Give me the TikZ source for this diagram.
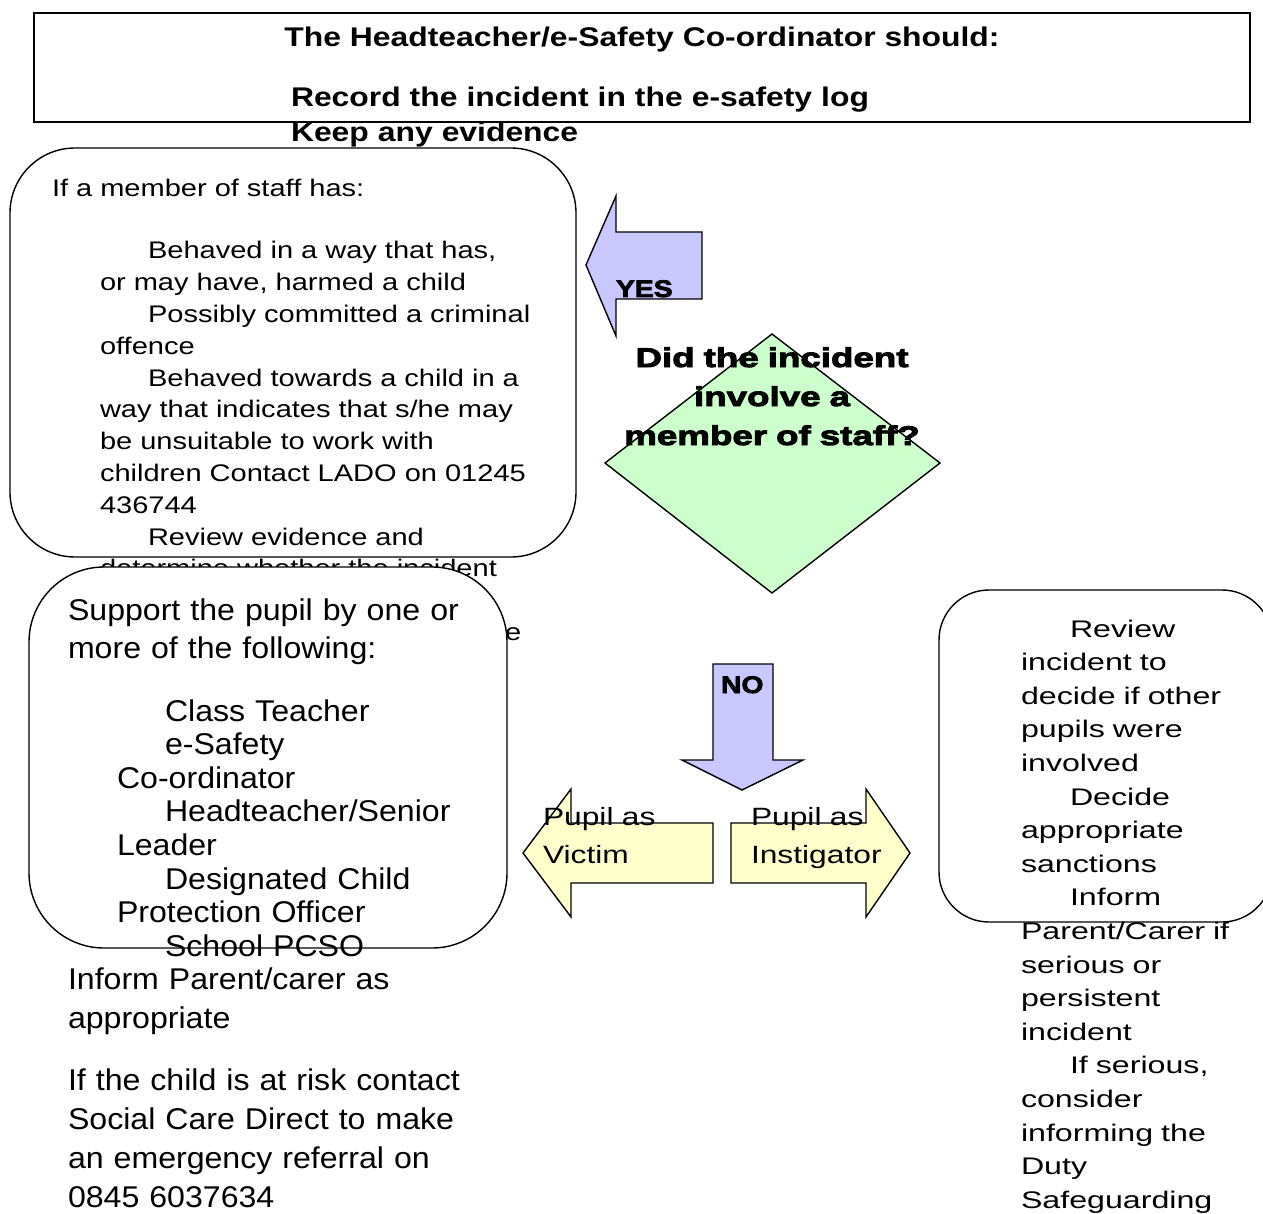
\documentclass[tikz,border=0pt]{standalone}
\usepackage{fontspec}
\setmainfont{Liberation Sans}
\newfontfamily\titlefont[FakeStretch=1.18]{Liberation Sans Bold}
\newfontfamily\askfont[FakeStretch=1.36,FakeBold=3.5]{Liberation Sans Bold}
\newfontfamily\yesnofont[FakeStretch=1.18,FakeBold=3]{Liberation Sans Bold}
\newfontfamily\stafffont[FakeStretch=1.21]{Liberation Sans}
\newfontfamily\supfont[FakeStretch=1.07]{Liberation Sans}
\newfontfamily\reviewfont[FakeStretch=1.34]{Liberation Sans}
\newfontfamily\pupilfont[FakeStretch=1.27]{Liberation Sans}
\definecolor{lilac}{RGB}{200,200,255}
\definecolor{mint}{RGB}{204,255,204}
\definecolor{cream}{RGB}{255,255,204}
\begin{document}
\begin{tikzpicture}[x=1pt, y=-1pt,
    every node/.style={inner sep=0pt, outer sep=0pt},
    frame/.style={draw, line width=1.4pt},
    roundbox/.style={frame, fill=white, rounded corners=#1},
    block/.style={frame, line join=miter, fill=#1},
    lines/.style={anchor=base west, align=left, text width=#1}]
  \useasboundingbox (0,0) rectangle (1263,1214);
  \fill[white] (0,0) rectangle (1263,1214);

  % heading
  \draw[frame] (34,13) rectangle (1250,122);
  \node[anchor=base, font=\titlefont\fontsize{27}{35}\selectfont] (title) at (642,47) {The Headteacher/e-Safety Co-ordinator should:};
  \node[lines=800pt, font=\titlefont\fontsize{27}{35}\selectfont] (record) at (291,107) {Record the incident in the e-safety log\\Keep any evidence};

  % member of staff
  \draw[roundbox=65pt] (10,148) rectangle (576,557);
  \node[lines=500pt, font=\stafffont\fontsize{24}{31.8}\selectfont] (staffif) at (52,197) {If a member of staff has:};
  \node[lines=500pt, font=\stafffont\fontsize{24}{31.8}\selectfont] (staffwhat) at (100,259) {\hspace*{48pt}Behaved in a way that has,\\or may have, harmed a child\\\hspace*{48pt}Possibly committed a criminal\\offence\\\hspace*{48pt}Behaved towards a child in a\\way that indicates that s/he may\\be unsuitable to work with\\children Contact LADO on 01245\\436744\\\hspace*{48pt}Review evidence and\\determine whether the incident\\\mbox{}\\\hspace*{405pt}e};

  % pupil as victim
  \draw[roundbox=75pt] (29,567) rectangle (507,948);
  \node[lines=440pt, font=\supfont\fontsize{30}{38.3}\selectfont] (support) at (68,620) {Support the pupil by one or\\more of the following:};
  \node[lines=400pt, font=\supfont\fontsize{30}{33.6}\selectfont] (contacts) at (117,721) {\hspace*{48pt}Class Teacher\\\hspace*{48pt}e-Safety\\Co-ordinator\\\hspace*{48pt}Headteacher/Senior\\Leader\\\hspace*{48pt}Designated Child\\Protection Officer\\\hspace*{48pt}School PCSO};
  \node[lines=440pt, font=\supfont\fontsize{30}{39}\selectfont] (inform) at (68,989) {Inform Parent/carer as\\appropriate};
  \node[lines=440pt, font=\supfont\fontsize{30}{39}\selectfont] (risk) at (68,1090) {If the child is at risk contact\\Social Care Direct to make\\an emergency referral on\\0845 6037634};

  % pupil as instigator
  \draw[roundbox=50pt] (939,590) rectangle (1272,922);
  \node[lines=300pt, font=\reviewfont\fontsize{24}{33.6}\selectfont] (review) at (1021,637) {\hspace*{49pt}Review\\incident to\\decide if other\\pupils were\\involved\\\hspace*{49pt}Decide\\appropriate\\sanctions\\\hspace*{49pt}Inform\\Parent/Carer if\\serious or\\persistent\\incident\\\hspace*{49pt}If serious,\\consider\\informing the\\Duty\\Safeguarding};

  % decision
  \draw[frame, fill=mint] (772,334) -- (940,463) -- (772,593) -- (605,463) -- cycle;
  \node[anchor=base, align=center, text width=360pt, font=\askfont\fontsize{27}{39}\selectfont] (ask) at (772,367) {Did the incident\\involve a\\member of staff?};

  % yes / no
  \draw[block=lilac] (702,232) -- (616,232) -- (616,196) -- (586,265) -- (616,336) -- (616,299) -- (702,299) -- cycle;
  \node[anchor=base west, font=\yesnofont\fontsize{24}{24}\selectfont] (yes) at (616,297) {YES};
  \draw[block=lilac] (713,664) -- (773,664) -- (773,760) -- (803,760) -- (742,790) -- (682,760) -- (713,760) -- cycle;
  \node[anchor=base west, font=\yesnofont\fontsize{24}{24}\selectfont] (no) at (721,693) {NO};

  % victim / instigator
  \draw[block=cream] (713,823) -- (571,823) -- (571,789) -- (523,853) -- (571,917) -- (571,883) -- (713,883) -- cycle;
  \draw[block=cream] (731,823) -- (866,823) -- (866,789) -- (910,853) -- (866,917) -- (866,883) -- (731,883) -- cycle;
  \node[lines=200pt, font=\pupilfont\fontsize{25}{38}\selectfont] (victim) at (543,825) {Pupil as\\Victim};
  \node[lines=200pt, font=\pupilfont\fontsize{25}{38}\selectfont] (instigator) at (751,825) {Pupil as\\Instigator};
\end{tikzpicture}
\end{document}
